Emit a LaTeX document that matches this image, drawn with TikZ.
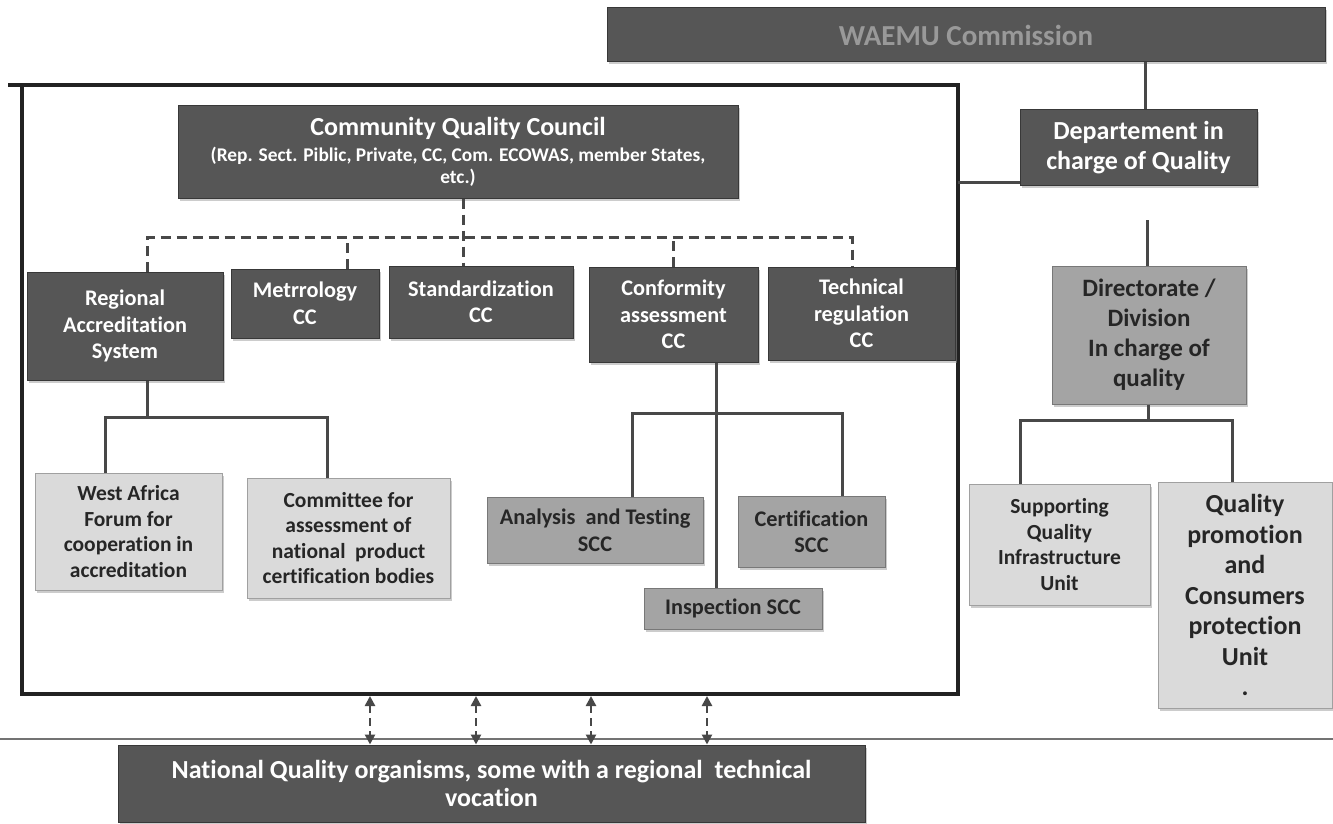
\documentclass[tikz,border=0pt]{standalone}
\usepackage{fontspec}
\setmainfont{Carlito}[Ligatures={NoCommon,NoContextual}]
\usetikzlibrary{arrows.meta,shadows}
\definecolor{dfill}{HTML}{565656}
\definecolor{dedge}{HTML}{383838}
\definecolor{mfill}{HTML}{A4A4A4}
\definecolor{medge}{HTML}{787878}
\definecolor{lfill}{HTML}{DADADA}
\definecolor{ledge}{HTML}{A0A0A0}
\definecolor{txt}{HTML}{262626}
\definecolor{lcol}{HTML}{484848}
\definecolor{framecol}{HTML}{222222}
\begin{document}
\begin{tikzpicture}[x=1pt,y=-1pt,
  box/.style={rectangle, inner sep=2pt, align=center,
    drop shadow={shadow xshift=2pt,shadow yshift=-2.5pt,fill=black!40}},
  dbox/.style={box, fill=dfill, draw=dedge, line width=1pt, text=white},
  mbox/.style={box, fill=mfill, draw=medge, line width=1pt, text=txt},
  lbox/.style={box, fill=lfill, draw=ledge, line width=1pt, text=txt},
  fbig/.style={font=\bfseries\fontsize{26}{30.5}\selectfont},
  fmid/.style={font=\bfseries\fontsize{22.3}{26.5}\selectfont},
  fsml/.style={font=\bfseries\fontsize{21.5}{25.5}\selectfont},
  conn/.style={draw=lcol, line width=3pt},
  dconn/.style={conn, dash pattern=on 10pt off 6pt},
  darr/.style={draw=lcol, line width=2.6pt, dash pattern=on 8pt off 5pt,
    {Triangle[width=10pt,length=10pt]}-{Triangle[width=10pt,length=10pt]}},
  framestyle/.style={draw=framecol, line width=3.5pt, line join=miter}
]
\useasboundingbox (0,0) rectangle (1333,824);

% scan rule line
\draw[black!55, line width=1.3pt] (0,739) -- (1333,739);

% outer frame
\draw[framestyle] (8,85) -- (958,85) -- (958,694) -- (22,694) -- (22,85);

% right column
\node[dbox, font=\bfseries\fontsize{29}{32}\selectfont, text=black!40, minimum width=718pt, minimum height=54pt] (waemu) at (966,35) {WAEMU Commission};
\node[dbox, fbig, minimum width=237pt, minimum height=75pt] (dept) at (1138.5,147.5) {Departement in\\charge of Quality};
\node[mbox, font=\bfseries\fontsize{25}{30}\selectfont, minimum width=194pt, minimum height=138pt] (dir) at (1149,335) {Directorate /\\Division\\In charge of\\quality};
\node[lbox, fsml, minimum width=181pt, minimum height=121pt] (sqi) at (1059.5,544.5) {Supporting\\Quality\\Infrastructure\\Unit};
\node[lbox, fbig, minimum width=174pt, minimum height=226pt] (qpu) at (1245,595) {Quality\\promotion\\and\\Consumers\\protection\\Unit\\.};

% inside frame
\node[dbox, font=\bfseries\fontsize{19.4}{22.5}\selectfont, minimum width=560pt, minimum height=92pt] (cqc) at (458,152)
  {{\fontsize{26}{30}\selectfont Community Quality Council}\\[3pt]
   (Rep. Sect. Piblic, Private, CC, Com. ECOWAS, member States,\\ etc.)};
\node[dbox, fmid, minimum width=196pt, minimum height=108pt] (ras) at (125,326) {Regional\\Accreditation\\System};
\node[dbox, fmid, minimum width=148pt, minimum height=69pt] (met) at (305,303.5) {Metrrology\\CC};
\node[dbox, fmid, minimum width=184pt, minimum height=72pt] (std) at (481,302) {Standardization\\CC};
\node[dbox, fmid, minimum width=169pt, minimum height=95pt] (cfa) at (673.5,314.5) {Conformity\\assessment\\CC};
\node[dbox, fmid, minimum width=187pt, minimum height=93pt] (tec) at (861.5,313.5) {Technical\\regulation\\CC};
\node[lbox, fsml, minimum width=187pt, minimum height=117pt] (waf) at (128.5,531.5) {West Africa\\Forum for\\cooperation in\\accreditation};
\node[lbox, fsml, minimum width=203pt, minimum height=120pt] (cab) at (348.5,538) {Committee for\\assessment of\\national\ \ product\\certification bodies};
\node[mbox, fmid, minimum width=216pt, minimum height=66pt] (ana) at (595,530) {Analysis\ \ and Testing\\SCC};
\node[mbox, fmid, minimum width=147pt, minimum height=71pt] (cer) at (811.5,531.5) {Certification\\SCC};
\node[mbox, fmid, minimum width=178pt, minimum height=41pt] (ins) at (733,608.5) {Inspection SCC};
\node[dbox, font=\bfseries\fontsize{26}{28.5}\selectfont, minimum width=747pt, minimum height=77pt] (nqo) at (491.5,783.5) {National Quality organisms, some with a regional\ \ technical\\vocation};

% dashed tree
\draw[dconn] (cqc.south -| 463,0) -- (std.north -| 463,0);
\draw[dconn] (ras.north -| 147,0) -- (147,237) -- (852,237) -- (tec.north -| 852,0);
\draw[dconn] (met.north -| 347,0) -- (347,237);
\draw[dconn] (cfa.north -| 673,0) -- (673,237);

% solid trees
\draw[conn] (ras.south -| 147,0) -- (147,417);
\draw[conn] (waf.north -| 105,0) -- (105,417) -- (327,417) -- (cab.north -| 327,0);
\draw[conn] (cfa.south -| 716,0) -- (ins.north -| 716,0);
\draw[conn] (ana.north -| 632,0) -- (632,413) -- (842,413) -- (cer.north -| 842,0);

% right connectors
\draw[conn] (waemu.south -| 1145,0) -- (dept.north -| 1145,0);
\draw[conn] (958,182) -- (dept.west |- 0,182);
\draw[conn] (1147,220) -- (dir.north -| 1147,0);
\draw[conn] (dir.south -| 1148,0) -- (1148,420);
\draw[conn] (sqi.north -| 1020,0) -- (1020,420) -- (1232,420) -- (qpu.north -| 1232,0);

% arrows to national organisms
\foreach \x in {370,476,591,707}
  \draw[darr] (\x,696) -- (nqo.north -| \x,0);
\end{tikzpicture}
\end{document}
